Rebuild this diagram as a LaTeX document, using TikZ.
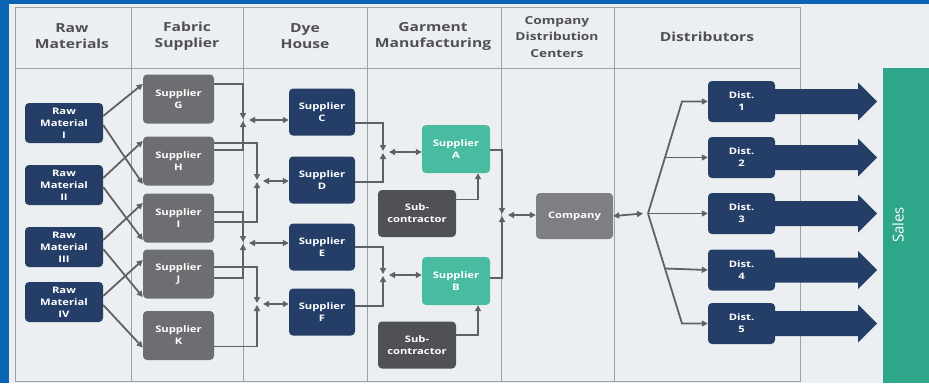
\documentclass[tikz,border=0pt]{standalone}
\usepackage{fontspec}
\setmainfont{Open Sans}
\newfontfamily\boxfont[FakeStretch=1.25]{Open Sans}
\usetikzlibrary{arrows.meta,calc}
\definecolor{navy}{RGB}{36,62,104}
\definecolor{fabgray}{RGB}{108,110,113}
\definecolor{subgray}{RGB}{80,81,84}
\definecolor{compgray}{RGB}{125,127,131}
\definecolor{garteal}{RGB}{72,187,160}
\definecolor{salesteal}{RGB}{46,166,138}
\definecolor{linec}{RGB}{95,97,100}
\definecolor{headc}{RGB}{80,80,82}
\definecolor{gridc}{RGB}{160,160,162}
\definecolor{bgc}{RGB}{236,239,241}
\definecolor{framec}{RGB}{10,100,180}
\begin{document}
\begin{tikzpicture}
	[x=1pt,y=-1pt,
	base/.style={rectangle,rounded corners=4pt,inner sep=0pt,align=center,text=white,
		font=\boxfont\bfseries\fontsize{9}{12}\selectfont},
	rawbox/.style={base,fill=navy,minimum width=78pt,minimum height=40pt},
	fabbox/.style={base,fill=fabgray,minimum width=71pt,minimum height=49pt},
	dyebox/.style={base,fill=navy,minimum width=66pt,minimum height=47pt},
	garbox/.style={base,fill=garteal,minimum width=68pt,minimum height=48pt},
	subbox/.style={base,fill=subgray,minimum width=78pt,minimum height=47pt},
	compbox/.style={base,fill=compgray,minimum width=77pt,minimum height=46pt},
	distbox/.style={base,fill=navy,minimum width=67pt,minimum height=41pt},
	head/.style={text=headc,align=center,font=\boxfont\bfseries\fontsize{12.5}{16}\selectfont},
	link/.style={draw=linec,line width=1.8pt,-{Triangle[length=6pt,width=6pt]}},
	dlink/.style={link,{Triangle[length=6pt,width=6pt]}-{Triangle[length=6pt,width=6pt]}}]
	\useasboundingbox (0,0) rectangle (929,383);
	\fill[framec] (0,0) rectangle (929,383);
	\fill[bgc] (9,4) rectangle (929,383);

	% tabela
	\draw[gridc,line width=1pt] (15,7) rectangle (800,381);
	\draw[gridc,line width=1pt] (15,68) -- (800,68);
	\foreach \x in {131,243,367,501,614}
		\draw[gridc,line width=1pt] (\x,7) -- (\x,381);

	\node[head] (hRaw) at (72,36) {Raw\\Materials};
	\node[head] (hFab) at (187,36) {Fabric\\Supplier};
	\node[head] (hDye) at (305,36) {Dye\\House};
	\node[head] (hGar) at (433,36) {Garment\\Manufacturing};
	\node[head,font=\boxfont\bfseries\fontsize{11}{16.5}\selectfont] (hComp) at (557,37) {Company\\Distribution\\Centers};
	\node[head] (hDist) at (707,37) {Distributors};

	\fill[salesteal] (883,68) rectangle (929,383);
	\node[rotate=90,text=white,font=\fontsize{15}{17}\selectfont] (sales) at (898,225) {Sales};

	\node[rawbox] (rI) at (64,123) {Raw\\Material\\I};
	\node[rawbox] (rII) at (64,185) {Raw\\Material\\II};
	\node[rawbox] (rIII) at (64,247) {Raw\\Material\\III};
	\node[rawbox] (rIV) at (64,302) {Raw\\Material\\IV};

	\node[fabbox] (fG) at (178.5,99) {Supplier\\G};
	\node[fabbox] (fH) at (178.5,161) {Supplier\\H};
	\node[fabbox] (fI) at (178.5,218) {Supplier\\I};
	\node[fabbox] (fJ) at (178.5,274) {Supplier\\J};
	\node[fabbox] (fK) at (178.5,335.5) {Supplier\\K};

	\node[dyebox] (dC) at (322,112) {Supplier\\C};
	\node[dyebox] (dD) at (322,180) {Supplier\\D};
	\node[dyebox] (dE) at (322,247) {Supplier\\E};
	\node[dyebox] (dF) at (322,312) {Supplier\\F};

	\node[garbox] (gA) at (456,149) {Supplier\\A};
	\node[garbox] (gB) at (456,281) {Supplier\\B};
	\node[subbox] (s1) at (417,213.5) {Sub-\\contractor};
	\node[subbox] (s2) at (417,345) {Sub-\\contractor};

	\node[compbox] (comp) at (574.5,216) {Company};

	\foreach \n/\y in {1/101.5,2/157.5,3/213.5,4/270,5/323.5}{
		\node[distbox] (d\n) at (741.5,\y) {Dist.\\\n};
		\fill[navy] ([xshift=-4,yshift=12.5]d\n.east) -- ++(87,0) -- ++(0,-6.5)
			-- ++(19,19) -- ++(-19,19) -- ++(0,-6.5) -- ([xshift=-4,yshift=-12.5]d\n.east) -- cycle;
	}

	% juncoes
	\coordinate (j1) at (243,120);
	\coordinate (j2) at (257,181);
	\coordinate (j3) at (243,243);
	\coordinate (j4) at (257,304);
	\coordinate (jA) at (383,152);
	\coordinate (jB) at (383,275);
	\coordinate (jC) at (502,215);
	\coordinate (fan) at (648,213.5);
	\coordinate (k1) at (682,101.5);
	\coordinate (k5) at (682,323.5);

	% materia prima -> tecido
	\foreach \from/\sy/\to/\ty in {rI/7/fG/15,rI/-2/fH/-23,rII/7/fH/20,rII/-2/fI/-22,
		rIII/7/fI/15,rIII/-2/fJ/-23,rIV/6/fJ/14,rIV/-3/fK/-12}
		\draw[link] ([yshift=\sy]\from.east) -- ([yshift=\ty]\to.west);

	% tecido -> tinturaria
	\foreach \from/\sy/\to in {fG/15/j1,fH/18/j2,fH/11/j1,fI/6/j3,fI/-4/j2,
		fJ/7/j4,fJ/-4/j3,fK/-11/j4}
		\draw[link,shorten >=1pt] ([yshift=\sy]\from.east) -| (\to);
	\foreach \j/\to in {j1/dC,j2/dD,j3/dE,j4/dF}
		\draw[dlink] ([xshift=6]\j) -- (\j -| \to.west);

	% tinturaria -> confeccao
	\foreach \from/\sy/\to in {dC/-11/jA,dD/-2/jA,dE/0/jB,dF/6/jB}
		\draw[link,shorten >=1pt] ([yshift=\sy]\from.east) -| (\to);
	\foreach \j/\to in {jA/gA,jB/gB}
		\draw[dlink] ([xshift=6]\j) -- (\j -| \to.west);
	\draw[link] ([yshift=14]s1.east) -| ([xshift=22]gA.south);
	\draw[link] ([yshift=10]s2.east) -| ([xshift=22]gB.south);

	% confeccao -> empresa
	\draw[link,shorten >=1pt] ([yshift=-1]gA.east) -| (jC);
	\draw[link,shorten >=1pt] ([yshift=3]gB.east) -| (jC);
	\draw[dlink] ([xshift=6]jC) -- (jC -| comp.west);

	% empresa -> distribuidores
	\draw[dlink] (comp.east) -- ([xshift=-5]fan);
	\draw[link] (fan) -- (k1) -- (d1.west);
	\draw[link] ($(fan)!.5!(k1)$) -- (d2.west);
	\draw[link] (fan) -- (d3.west);
	\draw[link] ($(fan)!.5!(k5)$) -- (d4.west);
	\draw[link] (fan) -- (k5) -- (d5.west);
\end{tikzpicture}
\end{document}
